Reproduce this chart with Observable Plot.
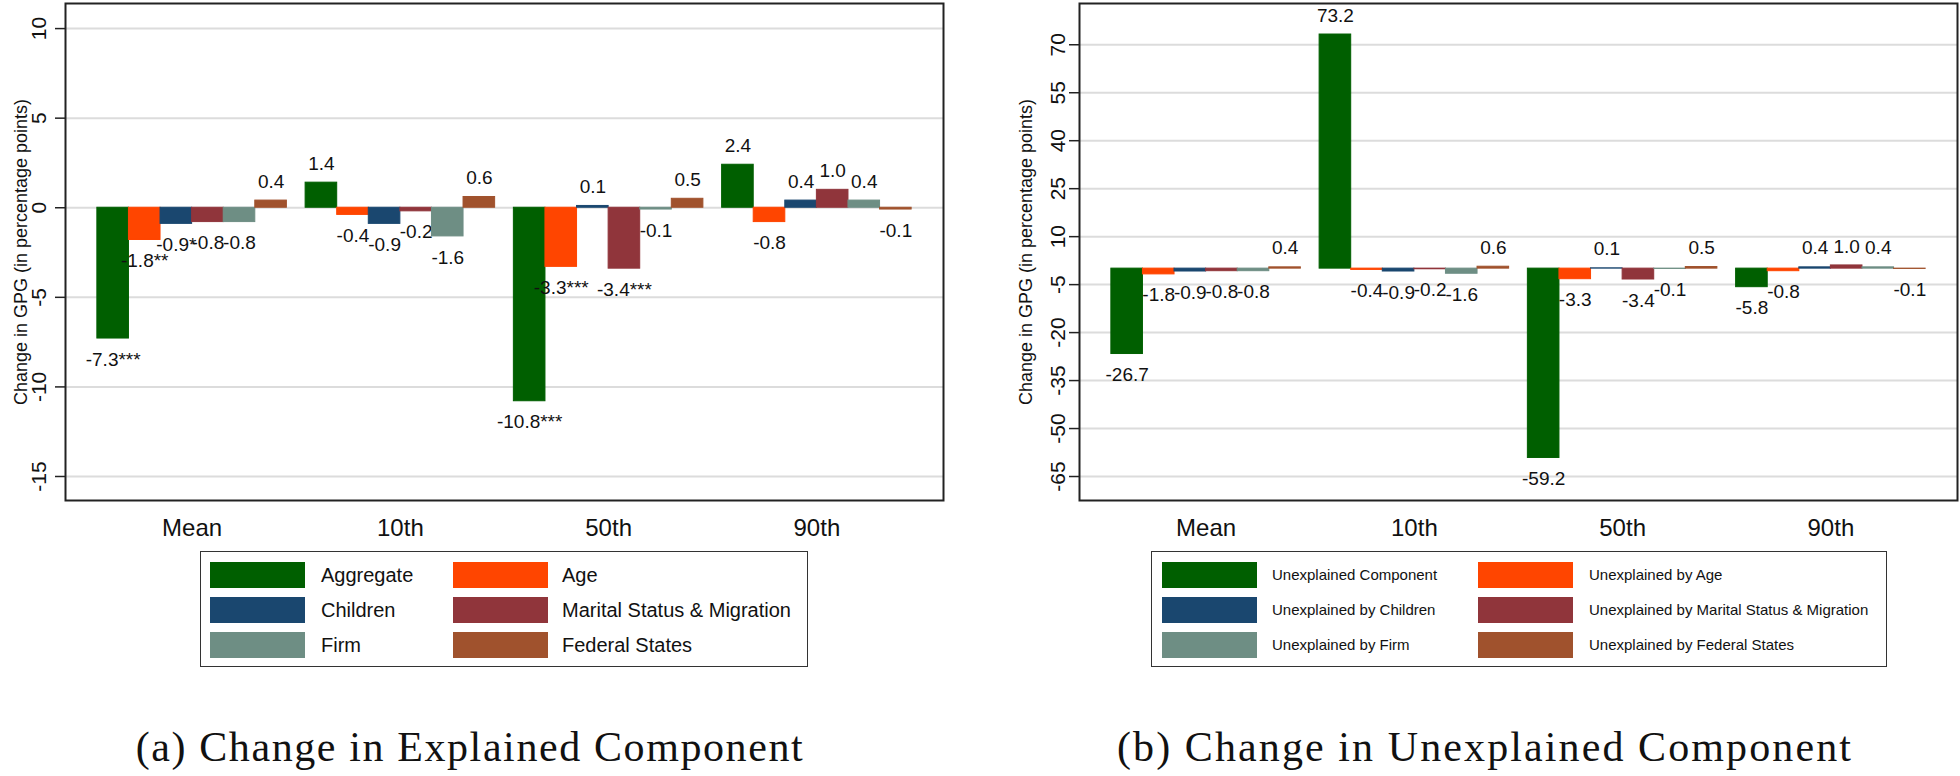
<!DOCTYPE html>
<html><head><meta charset="utf-8">
<script src="https://cdn.jsdelivr.net/npm/d3@7"></script>
<script src="https://cdn.jsdelivr.net/npm/@observablehq/plot@0.6"></script>
<style>
html,body{margin:0;padding:0;background:#fff;}
body{width:1960px;height:776px;position:relative;overflow:hidden;font-family:"Liberation Sans",Arial,sans-serif;}
.panel{position:absolute;top:0;}
.legend{position:absolute;border:1.5px solid #333;box-sizing:border-box;background:#fff;}
.sw{position:absolute;width:95px;height:26px;box-sizing:border-box;}
.lt{position:absolute;color:#111;line-height:26px;height:26px;white-space:nowrap;}
.caption{position:absolute;font-family:"Liberation Serif","Times New Roman",serif;font-size:42px;line-height:42px;color:#111;white-space:nowrap;transform:translateX(-50%);}
</style></head><body>
<script>
// ---------- DATA ----------
const groups = ["Mean", "10th", "50th", "90th"];

const explainedNames = ["Aggregate", "Age", "Children", "Marital Status & Migration", "Firm", "Federal States"];
const unexplainedNames = ["Unexplained Component", "Unexplained by Age", "Unexplained by Children",
  "Unexplained by Marital Status & Migration", "Unexplained by Firm", "Unexplained by Federal States"];
const seriesColors = ["#005f00", "#ff4500", "#1a476f", "#90353b", "#6e8e84", "#a0522d"];

// Explained component (panel a)
const explAggregate = [-7.3, 1.4, -10.8, 2.4];
const explAge       = [-1.8, -0.4, -3.3, -0.8];
const explChildren  = [-0.9, -0.9, 0.1, 0.4];
const explMarital   = [-0.8, -0.2, -3.4, 1.0];
const explFirm      = [-0.8, -1.6, -0.1, 0.4];
const explFederal   = [0.4, 0.6, 0.5, -0.1];
const starsAggregate = ["***", "", "***", ""];
const starsAge       = ["**", "", "***", ""];
const starsChildren  = ["*", "", "", ""];
const starsMarital   = ["", "", "***", ""];
const starsFirm      = ["", "", "", ""];
const starsFederal   = ["", "", "", ""];

// Unexplained component (panel b)
const unexAggregate = [-26.7, 73.2, -59.2, -5.8];
const unexAge       = [-1.8, -0.4, -3.3, -0.8];
const unexChildren  = [-0.9, -0.9, 0.1, 0.4];
const unexMarital   = [-0.8, -0.2, -3.4, 1.0];
const unexFirm      = [-0.8, -1.6, -0.1, 0.4];
const unexFederal   = [0.4, 0.6, 0.5, -0.1];

const explTicks = [-15, -10, -5, 0, 5, 10];
const unexTicks = [-65, -50, -35, -20, -5, 10, 25, 40, 55, 70];

const yTitle = "Change in GPG (in percentage points)";
const captionA = "(a) Change in Explained Component";
const captionB = "(b) Change in Unexplained Component";

// ---------- DRAWING ----------
const FONT = '"Liberation Sans", Arial, sans-serif';

function makePanel(cfg) {
  const W = 980, H = 545, mt = 3, mb = 45;
  const xopts = {type: "band", domain: groups, paddingInner: 0.09, paddingOuter: 0.153, round: false};
  const bw = Plot.scale({x: {...xopts, range: [cfg.ml, W - cfg.mr]}}).bandwidth;
  const sub = bw / 6;
  const marks = [Plot.gridY(cfg.ticks, {stroke: "#dcdcdc", strokeOpacity: 1, strokeWidth: 2})];
  cfg.values.forEach((vals, i) => {
    const data = groups.map((g, j) => ({
      group: g, value: vals[j],
      label: vals[j].toFixed(1) + (cfg.stars ? cfg.stars[i][j] : "")
    }));
    const c = seriesColors[i];
    marks.push(Plot.barY(data, {x: "group", y1: 0, y2: "value", fill: c, stroke: c, strokeWidth: 1,
      insetLeft: i * sub, insetRight: (5 - i) * sub}));
    marks.push(Plot.text(data.filter(d => d.value >= 0), {x: "group", y: "value", text: "label",
      dx: (i - 2.5) * sub, dy: -19, fontSize: 19, fill: "#111"}));
    marks.push(Plot.text(data.filter(d => d.value < 0), {x: "group", y: "value", text: "label",
      dx: (i - 2.5) * sub, dy: 21, fontSize: 19, fill: "#111"}));
  });
  marks.push(Plot.frame({stroke: "#222", strokeWidth: 2}));
  marks.push(Plot.axisY(cfg.ticks, {tickSize: 10, tickFormat: () => "", label: null, strokeWidth: 1.5, stroke: "#222"}));
  marks.push(Plot.text(cfg.ticks, {y: d => d, text: d => String(d), frameAnchor: "left", dx: cfg.tickDx,
    rotate: -90, textAnchor: "middle", lineAnchor: "bottom", fontSize: 21, fill: "#111"}));
  marks.push(Plot.text([yTitle], {text: d => d, frameAnchor: "left", dx: cfg.titleDx,
    rotate: -90, textAnchor: "middle", lineAnchor: "bottom", fontSize: 18, fill: "#111"}));
  marks.push(Plot.axisX({tickSize: 0, tickPadding: 18, fontSize: 24, label: null, fill: "#111"}));

  const svg = Plot.plot({
    width: W, height: H,
    marginLeft: cfg.ml, marginRight: cfg.mr, marginTop: mt, marginBottom: mb,
    x: xopts,
    y: {domain: cfg.yDomain},
    style: {fontFamily: FONT, background: "transparent", overflow: "visible", color: "#111"},
    marks
  });
  const div = document.createElement("div");
  div.className = "panel";
  div.style.left = cfg.left + "px";
  div.appendChild(svg);
  document.body.appendChild(div);
}

function makeLegend(cfg) {
  const box = document.createElement("div");
  box.className = "legend";
  Object.assign(box.style, {left: cfg.left + "px", top: "551px", width: cfg.width + "px", height: "116px"});
  const order = [[0, 1], [2, 3], [4, 5]];
  const rowTops = [10, 45, 80];
  order.forEach((pair, r) => pair.forEach((k, col) => {
    const sw = document.createElement("div");
    sw.className = "sw";
    Object.assign(sw.style, {left: cfg.swX[col] + "px", top: rowTops[r] + "px", background: seriesColors[k]});
    box.appendChild(sw);
    const t = document.createElement("div");
    t.className = "lt";
    t.textContent = cfg.names[k];
    Object.assign(t.style, {left: cfg.txX[col] + "px", top: rowTops[r] + "px", fontSize: cfg.fontSize + "px"});
    box.appendChild(t);
  }));
  document.body.appendChild(box);
}

function makeCaption(text, cx, spacing) {
  const d = document.createElement("div");
  d.className = "caption";
  d.textContent = text;
  Object.assign(d.style, {left: cx + "px", top: "726px", letterSpacing: spacing + "px"});
  document.body.appendChild(d);
}

makePanel({left: 0, ml: 65, mr: 37, yDomain: [-16.34, 11.4], ticks: explTicks, tickDx: -19.5, titleDx: -39,
  values: [explAggregate, explAge, explChildren, explMarital, explFirm, explFederal],
  stars: [starsAggregate, starsAge, starsChildren, starsMarital, starsFirm, starsFederal]});
makePanel({left: 980, ml: 99, mr: 3, yDomain: [-72.5, 82.9], ticks: unexTicks, tickDx: -15, titleDx: -48,
  values: [unexAggregate, unexAge, unexChildren, unexMarital, unexFirm, unexFederal]});

makeLegend({left: 200, width: 608, names: explainedNames, swX: [9, 252], txX: [120, 361], fontSize: 20});
makeLegend({left: 1151, width: 736, names: unexplainedNames, swX: [10, 326], txX: [120, 437], fontSize: 15});

makeCaption(captionA, 470, 1.6);
makeCaption(captionB, 1485, 2.1);
</script>
</body></html>
